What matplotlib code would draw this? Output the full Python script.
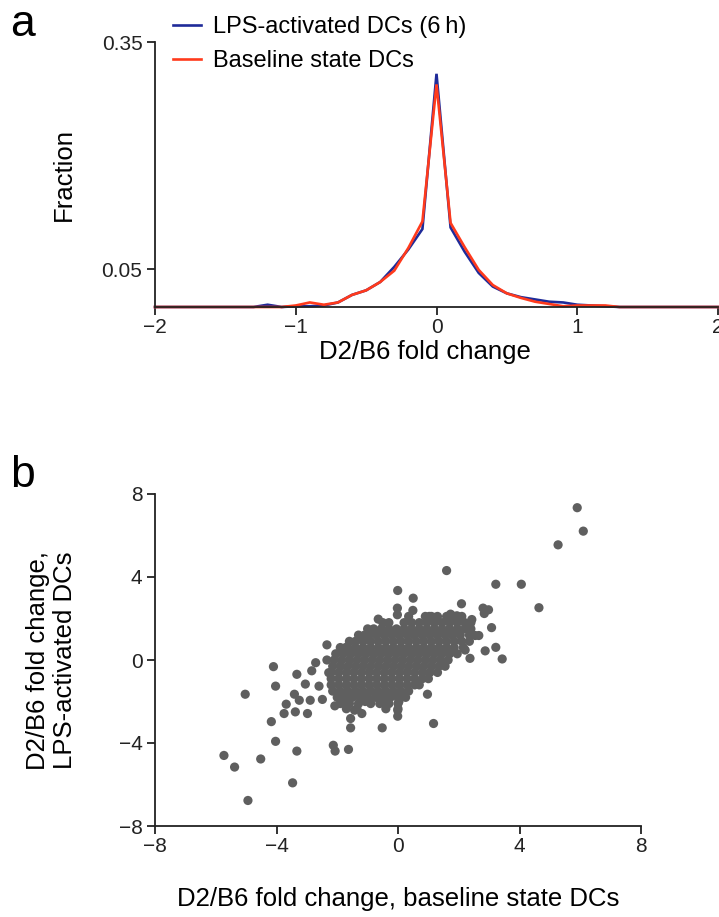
import matplotlib
matplotlib.use("Agg")
import matplotlib.pyplot as plt
import numpy as np

# %% Style
AXIS_COLOR = "#222222"
BLUE = "#1f2b99"
RED = "#ff3a1c"
DOT = "#5f5f5f"
FS_TICK = 15
FS_LABEL = 18.5
FS_LEGEND = 17
FS_PANEL = 32

plt.rcParams.update(
    {
        "font.family": ["Liberation Sans", "DejaVu Sans"],
        "axes.spines.right": False,
        "axes.spines.top": False,
        "axes.edgecolor": AXIS_COLOR,
        "axes.linewidth": 1.3,
        "xtick.direction": "out",
        "ytick.direction": "out",
        "xtick.major.size": 6,
        "ytick.major.size": 6,
        "xtick.major.width": 1.3,
        "ytick.major.width": 1.3,
        "xtick.major.pad": 2,
        "ytick.major.pad": 3,
        "xtick.labelsize": FS_TICK,
        "ytick.labelsize": FS_TICK,
        "xtick.color": AXIS_COLOR,
        "ytick.color": AXIS_COLOR,
    }
)

# %% Data, panel a (fraction of genes per fold-change bin)
fold_bins = [-2.0, -1.9, -1.8, -1.7, -1.6, -1.5, -1.4, -1.3, -1.2, -1.1,
             -1.0, -0.9, -0.8, -0.7, -0.6, -0.5, -0.4, -0.3, -0.2, -0.1,
             0.0, 0.1, 0.2, 0.3, 0.4, 0.5, 0.6, 0.7, 0.8, 0.9,
             1.0, 1.1, 1.2, 1.3, 1.4, 1.5, 1.6, 1.7, 1.8, 1.9, 2.0]
frac_lps = [0, 0, 0, 0, 0, 0, 0, 0, 0.003, 0,
            0.001, 0.001, 0.002, 0.006, 0.016, 0.022, 0.033, 0.053, 0.076, 0.103,
            0.308, 0.105, 0.073, 0.045, 0.027, 0.018, 0.013, 0.010, 0.007, 0.006,
            0.003, 0.002, 0.001, 0, 0, 0, 0, 0, 0, 0, 0]
frac_base = [0, 0, 0, 0, 0, 0, 0, 0, 0, 0,
             0.002, 0.006, 0.003, 0.006, 0.016, 0.022, 0.033, 0.048, 0.078, 0.113,
             0.294, 0.111, 0.079, 0.049, 0.029, 0.018, 0.012, 0.007, 0.004, 0.001,
             0.002, 0.002, 0.002, 0, 0, 0, 0, 0, 0, 0, 0]
legend_labels = ["LPS-activated DCs (6\u2009h)", "Baseline state DCs"]

# %% Data, panel b (scatter)
# isolated points (baseline, LPS)
outlier_x = [5.90, 6.10, 5.27, 1.60, 3.22, 4.06, 4.64, -0.01, 0.50, 0.49,
             2.09, 2.80, 2.98, 2.84, 2.43, 3.08, 2.66, 2.54, 3.22, 2.87,
             3.43, 2.37, 2.21, 1.94, 1.73, 1.03, 1.21, -0.65, -0.02, -0.02,
             -1.14, -0.79, -2.34, -1.71, -2.71, -2.34, -4.10, -3.33, -2.84, -2.28,
             -4.03, -3.05, -2.60, -5.03, -3.41, -3.25, -2.89, -2.49, -3.68, -3.38,
             -3.75, -2.98, -2.08, -1.43, -1.19, -1.56, -1.56, -0.52, -0.01, -0.01,
             0.97, 1.17, -4.17, -4.03, -5.73, -5.38, -4.52, -3.33, -3.47, -4.94,
             -2.13, -2.07, -1.63, 0.03, -0.44, -1.08, -1.78]
outlier_y = [7.34, 6.21, 5.55, 4.31, 3.65, 3.65, 2.52, 3.35, 2.98, 2.39,
             2.71, 2.50, 2.42, 2.24, 1.95, 1.56, 1.18, 1.18, 0.61, 0.44,
             0.05, 0.08, 0.48, 2.13, 2.21, 2.10, 2.05, 1.97, 2.50, 2.18,
             1.11, 1.37, 0.73, 0.61, -0.13, 0.00, -0.32, -0.69, -0.52, -0.61,
             -1.26, -1.16, -1.26, -1.65, -1.65, -1.94, -1.94, -1.90, -2.13, -2.50,
             -2.58, -2.58, -2.21, -2.42, -2.58, -2.82, -3.27, -3.27, -2.42, -2.71,
             -1.65, -3.06, -2.97, -3.92, -4.60, -5.16, -4.77, -4.39, -5.92, -6.77,
             -4.11, -4.39, -4.31, -2.00, -2.00, -2.00, -2.00]

# dense core, read row by row (LPS value, baseline values in that row)
core_lps = [2.1, 1.8, 1.5, 1.2, 0.9, 0.6, 0.3, 0.0,
            -0.3, -0.6, -0.9, -1.2, -1.5, -1.8, -2.1, -2.35]
core_base = [
    [0.35, 0.9, 1.1, 1.3, 1.6, 1.85, 2.1],
    [-0.5, -0.3, 0.2, 0.45, 0.7, 0.95, 1.2, 1.45, 1.7, 1.95, 2.2, 2.4],
    [-1.0, -0.8, -0.55, -0.3, -0.05, 0.2, 0.45, 0.7, 0.95, 1.2, 1.45, 1.7, 1.95, 2.2, 2.4],
    [-1.3, -1.1, -0.95, -0.7, -0.45, -0.2, 0.05, 0.3, 0.55, 0.8, 1.05, 1.3, 1.55, 1.8, 2.05, 2.35],
    [-1.6, -1.4, -1.15, -0.9, -0.65, -0.4, -0.15, 0.1, 0.35, 0.6, 0.85, 1.1, 1.35, 1.6, 1.85, 2.1, 2.35],
    [-1.9, -1.65, -1.4, -1.15, -0.9, -0.65, -0.4, -0.15, 0.1, 0.35, 0.6, 0.85, 1.1, 1.35, 1.6, 1.85, 2.15],
    [-2.05, -1.8, -1.55, -1.3, -1.05, -0.8, -0.55, -0.3, -0.05, 0.2, 0.45, 0.7, 0.95, 1.2, 1.45, 1.7, 1.95],
    [-2.1, -1.85, -1.6, -1.35, -1.1, -0.85, -0.6, -0.35, -0.1, 0.15, 0.4, 0.65, 0.9, 1.15, 1.4, 1.65],
    [-2.15, -1.9, -1.65, -1.4, -1.15, -0.9, -0.65, -0.4, -0.15, 0.1, 0.35, 0.6, 0.85, 1.1, 1.35, 1.55],
    [-2.2, -1.95, -1.7, -1.45, -1.2, -0.95, -0.7, -0.45, -0.2, 0.05, 0.3, 0.55, 0.8, 1.05, 1.3],
    [-2.2, -1.95, -1.7, -1.45, -1.2, -0.95, -0.7, -0.45, -0.2, 0.05, 0.3, 0.55, 0.8, 1.0],
    [-2.2, -1.95, -1.7, -1.45, -1.2, -0.95, -0.7, -0.45, -0.2, 0.05, 0.3, 0.55, 0.7],
    [-2.15, -1.9, -1.65, -1.4, -1.15, -0.9, -0.65, -0.4, -0.15, 0.1, 0.35],
    [-2.0, -1.75, -1.5, -1.25, -1.0, -0.75, -0.5, -0.25, 0.0, 0.25],
    [-1.9, -1.6, -1.3, -0.9, -0.6, -0.3, 0.0],
    [-1.7, -1.35, -0.4, 0.0],
]

if __name__ == "__main__":
    W, H = 719, 917
    fig = plt.figure(figsize=(W / 100, H / 100), dpi=100)

    # ---- panel a
    ax1 = fig.add_axes([155 / W, 1 - 307 / H, 563 / W, 265 / H])
    ax1.plot(fold_bins, frac_lps, color=BLUE, lw=1.9, label=legend_labels[0],
             clip_on=False, solid_joinstyle="miter")
    ax1.plot(fold_bins, frac_base, color=RED, lw=1.9, label=legend_labels[1],
             clip_on=False, solid_joinstyle="miter")
    ax1.set_xlim(-2, 2)
    ax1.set_ylim(0, 0.35)
    ax1.set_xticks([-2, -1, 0, 1, 2])
    ax1.set_yticks([0.05, 0.35])
    ax1.set_yticklabels(["0.05", "0.35"])
    ax1.set_xlabel("D2/B6 fold change", fontsize=FS_LABEL)
    ax1.xaxis.set_label_coords(0.48, -0.125)
    ax1.set_ylabel("Fraction", fontsize=FS_LABEL)
    ax1.yaxis.set_label_coords(-0.14, 0.5)
    ax1.legend(loc="upper left", bbox_to_anchor=(173 / W, 1 - 16 / H),
               bbox_transform=fig.transFigure, frameon=False, fontsize=FS_LEGEND,
               handlelength=1.2, handletextpad=0.5, labelspacing=0.5,
               borderpad=0, borderaxespad=0)

    # ---- panel b
    sx = list(outlier_x)
    sy = list(outlier_y)
    for yv, xs in zip(core_lps, core_base):
        sx.extend(xs)
        sy.extend([yv] * len(xs))

    ax2 = fig.add_axes([155 / W, 1 - 826 / H, 486 / W, 332 / H])
    ax2.scatter(sx, sy, s=44, color=DOT, edgecolors="none")
    ax2.set_xlim(-8, 8)
    ax2.set_ylim(-8, 8)
    ax2.set_xticks([-8, -4, 0, 4, 8])
    ax2.set_yticks([-8, -4, 0, 4, 8])
    ax2.set_xlabel("D2/B6 fold change, baseline state DCs", fontsize=FS_LABEL)
    ax2.xaxis.set_label_coords(0.5, -0.185)
    ax2.set_ylabel("D2/B6 fold change,\nLPS-activated DCs", fontsize=FS_LABEL,
                   linespacing=1.15)
    ax2.yaxis.set_label_coords(-0.16, 0.5)

    fig.text(10 / W, 1 - 4 / H, "a", fontsize=FS_PANEL, va="top", ha="left")
    fig.text(10 / W, 1 - 455 / H, "b", fontsize=FS_PANEL, va="top", ha="left")

    plt.savefig("out.png", dpi=100)
